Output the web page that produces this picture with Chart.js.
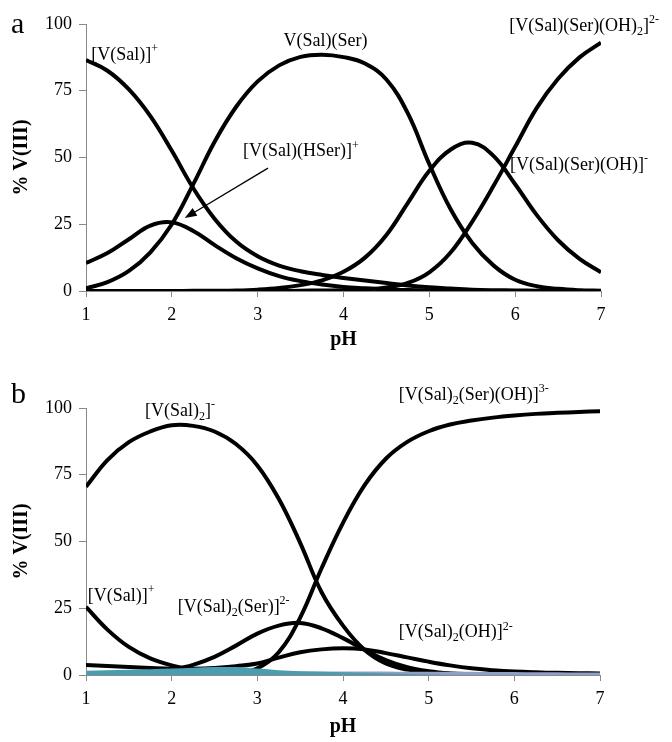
<!DOCTYPE html>
<html>
<head>
<meta charset="utf-8">
<script src="https://cdn.jsdelivr.net/npm/chart.js@4.4.0/dist/chart.umd.min.js"></script>
<style>
  html, body { margin: 0; padding: 0; background: #fff; }
  #wrap { position: relative; width: 672px; height: 742px; }
  canvas { position: absolute; left: 0; }
</style>
</head>
<body>
<div id="wrap">
  <canvas id="chart-a" width="672" height="360" style="top:0"></canvas>
  <canvas id="chart-b" width="672" height="382" style="top:360px"></canvas>
</div>
<script>
var pH = [1, 1.25, 1.5, 1.75, 2, 2.25, 2.5, 2.75, 3, 3.25, 3.5, 3.75, 4,
          4.25, 4.5, 4.75, 5, 5.25, 5.5, 5.75, 6, 6.25, 6.5, 6.75, 7];
var xTicks = [1, 2, 3, 4, 5, 6, 7];
var yTicks = [0, 25, 50, 75, 100];

// panel a
var salA   = [86.5, 82.5, 75.5, 65.5, 52.5, 38.5, 27, 18.5, 13, 9.5, 7.4, 6, 4.9, 3.9, 3, 2.1, 1.4, 0.9, 0.5, 0.3, 0.2, 0.1, 0, 0, 0];
var hserA  = [10.5, 14.2, 19.4, 24.5, 25.7, 22.5, 17.2, 12.3, 8.5, 5.6, 3.7, 2.4, 1.5, 1, 0.6, 0.35, 0.2, 0.1, 0, 0, 0, 0, 0, 0, 0];
var serA   = [1, 3.3, 7.5, 14.5, 25, 40, 56, 69, 78.5, 84.5, 87.7, 88.5, 87.6, 85.2, 79.2, 66.5, 47.5, 30.5, 18, 9.5, 4.2, 1.8, 0.8, 0.3, 0.1];
var ohA    = [0, 0, 0, 0, 0, 0.05, 0.1, 0.2, 0.5, 1.1, 2.2, 4, 7.2, 12.5, 21, 33, 45, 53, 55.5, 50.5, 40, 28.5, 19, 12, 7];
var oh2A   = [0, 0, 0, 0, 0, 0, 0, 0, 0, 0, 0.1, 0.2, 0.3, 0.6, 1.3, 3, 7, 14.5, 26, 39.5, 54, 68.5, 79.5, 87.5, 93];

// panel b
var salB     = [25.5, 17, 10.5, 6.2, 3.6, 2.1, 1.2, 0.7, 0.4, 0.2, 0.1, 0.05, 0, 0, 0, 0, 0, 0, 0, 0, 0, 0, 0, 0, 0];
var sal2B    = [70.5, 80.5, 87.2, 91.2, 93.5, 93.3, 91.2, 86.5, 78.5, 66, 49.5, 31, 18.5, 9.5, 4.3, 2, 1, 0.5, 0.3, 0.15, 0.1, 0, 0, 0, 0];
var sal2SerB = [0, 0.1, 0.3, 0.9, 2, 3.8, 6.8, 11, 15.5, 18.5, 19.5, 17.5, 13.8, 9.5, 5.6, 2.9, 1.4, 0.6, 0.3, 0.1, 0, 0, 0, 0, 0];
var serOHB   = [0, 0, 0, 0, 0, 0, 0, 0.8, 2.5, 8.5, 21.5, 40, 57, 71, 81, 87.3, 91.3, 93.8, 95.3, 96.4, 97.2, 97.8, 98.2, 98.5, 98.8];
var ohB      = [3.7, 3.4, 3, 2.6, 2.3, 2.3, 2.6, 3.3, 4.3, 6.5, 8.5, 9.6, 10, 9.6, 8.2, 6.6, 5, 3.6, 2.5, 1.8, 1.3, 1, 0.8, 0.7, 0.6];
var tealB    = [1.6, 1.8, 2, 2.2, 2.4, 2.7, 3, 3, 2.4, 1.8, 1.4, 1.2, 1, 0.8, 0.6, 0.4, 0.2, 0, 0, 0, 0, 0, 0, 0, 0];
var lavB     = [0.3, 0.3, 0.4, 0.4, 0.5, 0.6, 0.8, 1, 1.1, 1.2, 1.3, 1.3, 1.3, 1.3, 1.3, 1.2, 1.2, 1.2, 1.2, 1.1, 1.1, 1, 1, 0.9, 0.9];

var SERIF = '"Liberation Serif", "Times New Roman", serif';
Chart.defaults.font.family = SERIF;
Chart.defaults.color = '#000';

function pts(vals) {
    return vals.map(function(v, i) { return {x: pH[i], y: v}; });
}

function blackLine(vals) {
    return {
        data: pts(vals),
        borderColor: '#000',
        borderWidth: 4,
        pointRadius: 0,
        tension: 0.4,
        fill: false,
        order: 3
    };
}

function areaLine(vals, color, order) {
    return {
        data: pts(vals),
        borderColor: color,
        borderWidth: 0,
        backgroundColor: color,
        pointRadius: 0,
        cubicInterpolationMode: 'monotone',
        fill: 'origin',
        order: order
    };
}

// text with _{sub} and ^{sup}
function drawRich(ctx, str, x, y, size) {
    var re = /([_^])\{([^}]*)\}/g, parts = [], last = 0, m;
    while ((m = re.exec(str))) {
        if (m.index > last) parts.push({t: str.slice(last, m.index), k: ''});
        parts.push({t: m[2], k: m[1]});
        last = re.lastIndex;
    }
    if (last < str.length) parts.push({t: str.slice(last), k: ''});
    parts.forEach(function(p) {
        var s = p.k ? Math.round(size * 0.65) : size;
        ctx.font = s + 'px ' + SERIF;
        var dy = p.k === '_' ? size * 0.22 : (p.k === '^' ? -size * 0.42 : 0);
        ctx.fillText(p.t, x, y + dy);
        x += ctx.measureText(p.t).width;
    });
}

var speciesLabels = {
    id: 'speciesLabels',
    afterDatasetsDraw: function(chart, args, opts) {
        var ctx = chart.ctx, xs = chart.scales.x, ys = chart.scales.y;
        ctx.save();
        ctx.fillStyle = '#000';
        ctx.strokeStyle = '#000';
        ctx.textAlign = 'left';
        ctx.textBaseline = 'alphabetic';
        (opts.items || []).forEach(function(it) {
            drawRich(ctx, it.text, xs.getPixelForValue(it.x), ys.getPixelForValue(it.y), 18);
        });
        if (opts.arrow) {
            var a = opts.arrow;
            var x0 = xs.getPixelForValue(a.from[0]), y0 = ys.getPixelForValue(a.from[1]);
            var x1 = xs.getPixelForValue(a.to[0]), y1 = ys.getPixelForValue(a.to[1]);
            var ang = Math.atan2(y1 - y0, x1 - x0);
            ctx.lineWidth = 1.3;
            ctx.beginPath();
            ctx.moveTo(x0, y0);
            ctx.lineTo(x1 - 8 * Math.cos(ang), y1 - 8 * Math.sin(ang));
            ctx.stroke();
            ctx.beginPath();
            ctx.moveTo(x1, y1);
            ctx.lineTo(x1 - 12 * Math.cos(ang) + 4.5 * Math.sin(ang), y1 - 12 * Math.sin(ang) - 4.5 * Math.cos(ang));
            ctx.lineTo(x1 - 12 * Math.cos(ang) - 4.5 * Math.sin(ang), y1 - 12 * Math.sin(ang) + 4.5 * Math.cos(ang));
            ctx.closePath();
            ctx.fill();
        }
        if (opts.letter) {
            ctx.font = '30px ' + SERIF;
            ctx.fillText(opts.letter.text, opts.letter.x, opts.letter.y);
        }
        ctx.restore();
    }
};

function makeChart(id, datasets, pad, xHeight, xTitlePad, labelOpts) {
    var ctx = document.getElementById(id).getContext('2d');
    return new Chart(ctx, {
        type: 'line',
        data: { datasets: datasets },
        options: {
            responsive: false,
            animation: false,
            layout: { padding: pad },
            plugins: {
                legend: { display: false },
                tooltip: { enabled: false },
                speciesLabels: labelOpts
            },
            scales: {
                x: {
                    type: 'linear',
                    min: 1, max: 7,
                    afterBuildTicks: function(s) { s.ticks = xTicks.map(function(v) { return {value: v}; }); },
                    afterFit: function(s) { s.height = xHeight; },
                    ticks: { font: { size: 18 }, color: '#000', padding: 7 },
                    grid: { drawOnChartArea: false, drawTicks: true, tickLength: 6, color: '#8a8a8a' },
                    border: { display: true, color: '#8a8a8a', width: 1 },
                    title: { display: true, text: 'pH', font: { size: 20, weight: 'bold' }, color: '#000',
                             padding: { top: 0, bottom: xTitlePad } }
                },
                y: {
                    min: 0, max: 100,
                    afterBuildTicks: function(s) { s.ticks = yTicks.map(function(v) { return {value: v}; }); },
                    afterFit: function(s) { s.width = 86; },
                    ticks: { font: { size: 18 }, color: '#000', padding: 7 },
                    grid: { drawOnChartArea: false, drawTicks: true, tickLength: 7, color: '#8a8a8a' },
                    border: { display: true, color: '#8a8a8a', width: 1 },
                    title: { display: true, text: '% V(III)', font: { size: 20, weight: 'bold' }, color: '#000',
                             padding: { top: 10, bottom: 0 } }
                }
            }
        },
        plugins: [speciesLabels]
    });
}

makeChart('chart-a',
    [blackLine(salA), blackLine(hserA), blackLine(serA), blackLine(ohA), blackLine(oh2A)],
    { top: 24, right: 71, left: 0, bottom: 0 }, 69, 8,
    {
        letter: { text: 'a', x: 11, y: 33 },
        items: [
            { text: '[V(Sal)]^{+}', x: 1.06, y: 86.5 },
            { text: 'V(Sal)(Ser)', x: 3.30, y: 91.8 },
            { text: '[V(Sal)(Ser)(OH)_{2}]^{2-}', x: 5.93, y: 97.4 },
            { text: '[V(Sal)(HSer)]^{+}', x: 2.83, y: 50.5 },
            { text: '[V(Sal)(Ser)(OH)]^{-}', x: 5.94, y: 45.5 }
        ],
        arrow: { from: [3.12, 46], to: [2.15, 27.3] }
    });

makeChart('chart-b',
    [blackLine(salB), blackLine(sal2B), blackLine(sal2SerB), blackLine(serOHB), blackLine(ohB),
     areaLine(tealB, '#4a9cb1', 1), areaLine(lavB, '#8ea0c9', 2)],
    { top: 48, right: 72, left: 0, bottom: 0 }, 67, 3,
    {
        letter: { text: 'b', x: 11, y: 43 },
        items: [
            { text: '[V(Sal)_{2}]^{-}', x: 1.69, y: 97 },
            { text: '[V(Sal)_{2}(Ser)(OH)]^{3-}', x: 4.65, y: 103 },
            { text: '[V(Sal)]^{+}', x: 1.02, y: 27.7 },
            { text: '[V(Sal)_{2}(Ser)]^{2-}', x: 2.07, y: 23.6 },
            { text: '[V(Sal)_{2}(OH)]^{2-}', x: 4.65, y: 14.2 }
        ]
    });
</script>
</body>
</html>
